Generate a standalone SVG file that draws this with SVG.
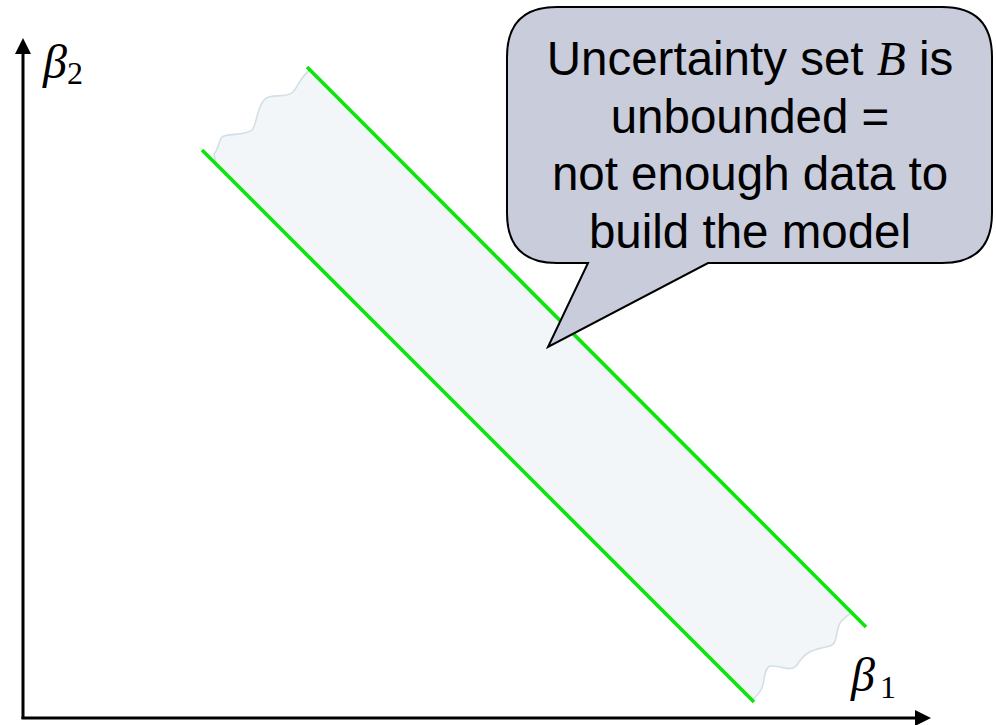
<svg xmlns="http://www.w3.org/2000/svg" width="996" height="725" viewBox="0 0 996 725">
<style>
.axis{stroke:#000;stroke-width:3;fill:none}
.green{stroke:#0ae60a;stroke-width:3.6;fill:none}
.band{fill:#f2f6f8;stroke:none}
.edge{fill:none;stroke:#d3dfe6;stroke-width:1.6}
.beta{font-family:"Liberation Serif",serif;font-style:italic;fill:#000}
.sub{font-family:"Liberation Serif",serif;fill:#000}
.call{font-family:"Liberation Sans",Arial,sans-serif;font-size:47.5px;fill:#000;text-anchor:middle}
</style>
<g id="band">
<path class="band" d="M216,164 L214,154 C218,150 219,140 222,137 C226,133 245,136 252,130 C257,125 256,108 265,99 C272,93 285,99 293,92 C298,87 300,77 310,70 L852,612 C845,618 840,620 838,628 C835,640 837,645 826,647 C812,650 805,652 797,665 C790,673 782,665 770,666 C764,668 765,680 762,688 C760,692 757,696 752,700 Z"/>
<path class="edge" d="M216,164 L214,154 C218,150 219,140 222,137 C226,133 245,136 252,130 C257,125 256,108 265,99 C272,93 285,99 293,92 C298,87 300,77 310,70"/>
<path class="edge" d="M852,612 C845,618 840,620 838,628 C835,640 837,645 826,647 C812,650 805,652 797,665 C790,673 782,665 770,666 C764,668 765,680 762,688 C760,692 757,696 752,700"/>
</g>
<g id="connectors">
<line class="axis" x1="23" y1="719" x2="23" y2="52" />
<path d="M23,38 L31,54 L15,54 Z" fill="#000"/>
<line class="axis" x1="21.5" y1="718" x2="916" y2="718"/>
<path d="M931,718 L915,710 L915,726 Z" fill="#000"/>
<line class="green" x1="307" y1="67" x2="866" y2="627"/>
<line class="green" x1="202" y1="150" x2="754" y2="702"/>
</g>
<g id="label-b2">
<text class="beta" x="43" y="78" font-size="48">β</text>
<text class="sub" x="67" y="84" font-size="32">2</text>
</g>
<g id="label-b1">
<text class="beta" x="851" y="691" font-size="48">β</text>
<text class="sub" x="880" y="698" font-size="32">1</text>
</g>
<g id="callout">
<path d="M557,7 L942,7 Q992,7 992,57 L992,213 Q992,263 942,263 L708,263 L548,347 L588,263 L557,263 Q507,263 507,213 L507,57 Q507,7 557,7 Z" fill="#c9ccdb" stroke="#000" stroke-width="2" stroke-linejoin="miter"/>
<text class="call" x="750" y="75">Uncertainty set <tspan font-family="Liberation Serif,serif" font-style="italic">B</tspan> is</text>
<text class="call" x="750" y="133">unbounded =</text>
<text class="call" x="750" y="190">not enough data to</text>
<text class="call" x="750" y="248">build the model</text>
</g>
</svg>
